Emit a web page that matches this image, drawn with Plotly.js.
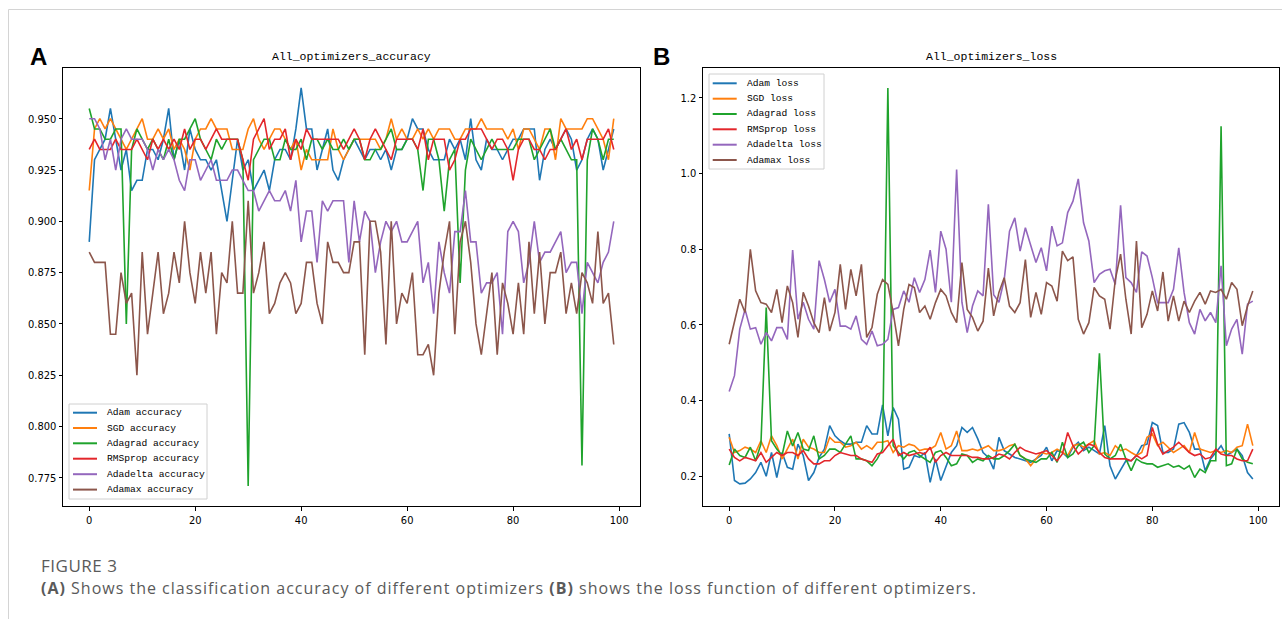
<!DOCTYPE html>
<html>
<head>
<meta charset="utf-8">
<script src="https://cdn.plot.ly/plotly-3.0.1.min.js"></script>
<style>html,body{margin:0;padding:0;background:#fff;}#chart{width:1282px;height:619px;}</style>
</head>
<body>
<div id="chart"></div>
<script>
// ---------------- data ----------------
const epochs = Array.from({length: 100}, (_, i) => i);

const accNames = ["Adam accuracy", "SGD accuracy", "Adagrad accuracy", "RMSprop accuracy", "Adadelta accuracy", "Adamax accuracy"];
const lossNames = ["Adam loss", "SGD loss", "Adagrad loss", "RMSprop loss", "Adadelta loss", "Adamax loss"];
const seriesColors = ["#1f77b4", "#ff7f0e", "#1fa32c", "#e3262b", "#9467bd", "#8c564b"];

const adamAcc = [0.890,0.930,0.935,0.940,0.955,0.940,0.925,0.935,0.915,0.920,
 0.920,0.935,0.935,0.930,0.940,0.955,0.930,0.940,0.925,0.945,
 0.935,0.930,0.930,0.925,0.930,0.915,0.900,0.920,0.940,0.925,
 0.930,0.915,0.920,0.925,0.915,0.930,0.935,0.935,0.930,0.945,
 0.965,0.945,0.945,0.925,0.935,0.945,0.925,0.920,0.930,0.935,
 0.940,0.935,0.930,0.935,0.935,0.930,0.935,0.925,0.935,0.935,
 0.940,0.950,0.945,0.945,0.935,0.930,0.930,0.930,0.940,0.935,
 0.940,0.930,0.950,0.930,0.925,0.940,0.935,0.935,0.930,0.935,
 0.940,0.940,0.945,0.945,0.945,0.920,0.935,0.940,0.935,0.940,
 0.945,0.940,0.925,0.930,0.940,0.945,0.940,0.925,0.935,0.945];
const sgdAcc = [0.915,0.945,0.950,0.945,0.950,0.945,0.940,0.935,0.940,0.945,
 0.950,0.940,0.940,0.945,0.940,0.945,0.935,0.940,0.935,0.925,
 0.940,0.945,0.945,0.950,0.945,0.945,0.945,0.935,0.935,0.935,
 0.945,0.950,0.940,0.935,0.940,0.945,0.945,0.940,0.935,0.940,
 0.925,0.935,0.930,0.930,0.930,0.930,0.945,0.935,0.930,0.935,
 0.940,0.940,0.940,0.940,0.940,0.935,0.940,0.950,0.940,0.945,
 0.940,0.940,0.945,0.940,0.945,0.940,0.945,0.945,0.945,0.940,
 0.940,0.945,0.945,0.945,0.950,0.945,0.945,0.945,0.945,0.940,
 0.945,0.935,0.945,0.945,0.940,0.935,0.945,0.945,0.930,0.950,
 0.945,0.945,0.945,0.945,0.950,0.950,0.945,0.940,0.930,0.950];
const adagradAcc = [0.955,0.945,0.945,0.940,0.940,0.945,0.945,0.850,0.935,0.945,
 0.940,0.935,0.940,0.935,0.930,0.940,0.930,0.940,0.940,0.945,
 0.950,0.940,0.935,0.930,0.940,0.935,0.940,0.940,0.940,0.930,
 0.771,0.930,0.935,0.940,0.940,0.930,0.930,0.940,0.935,0.935,
 0.940,0.930,0.940,0.940,0.935,0.940,0.935,0.935,0.940,0.935,
 0.940,0.940,0.930,0.930,0.935,0.935,0.940,0.945,0.935,0.935,
 0.940,0.940,0.935,0.915,0.940,0.940,0.930,0.905,0.930,0.935,
 0.870,0.925,0.940,0.935,0.930,0.935,0.940,0.935,0.935,0.935,
 0.935,0.940,0.940,0.940,0.930,0.935,0.940,0.945,0.935,0.940,
 0.935,0.930,0.930,0.781,0.930,0.945,0.940,0.930,0.940,0.940];
const rmspropAcc = [0.935,0.940,0.935,0.935,0.935,0.940,0.935,0.935,0.935,0.940,
 0.935,0.930,0.940,0.935,0.940,0.935,0.940,0.935,0.945,0.935,
 0.940,0.940,0.935,0.940,0.945,0.940,0.940,0.940,0.940,0.930,
 0.920,0.940,0.945,0.950,0.935,0.940,0.940,0.945,0.930,0.940,
 0.935,0.945,0.940,0.940,0.940,0.940,0.940,0.940,0.935,0.940,
 0.945,0.940,0.930,0.940,0.945,0.940,0.935,0.930,0.940,0.940,
 0.940,0.940,0.935,0.945,0.930,0.940,0.940,0.940,0.925,0.930,
 0.940,0.940,0.945,0.945,0.945,0.940,0.935,0.940,0.940,0.935,
 0.920,0.935,0.940,0.940,0.935,0.935,0.930,0.935,0.935,0.940,
 0.945,0.935,0.940,0.930,0.940,0.940,0.940,0.940,0.945,0.935];
const adadeltaAcc = [0.950,0.950,0.945,0.930,0.940,0.925,0.940,0.945,0.940,0.940,
 0.940,0.935,0.925,0.935,0.930,0.935,0.930,0.920,0.915,0.930,
 0.930,0.920,0.925,0.930,0.920,0.920,0.920,0.925,0.925,0.920,
 0.915,0.915,0.905,0.910,0.915,0.910,0.910,0.915,0.905,0.920,
 0.890,0.905,0.905,0.880,0.910,0.905,0.910,0.910,0.910,0.880,
 0.910,0.890,0.905,0.900,0.875,0.890,0.900,0.895,0.900,0.890,
 0.890,0.895,0.900,0.870,0.880,0.855,0.890,0.875,0.865,0.895,
 0.895,0.915,0.890,0.890,0.865,0.870,0.870,0.875,0.845,0.895,
 0.900,0.895,0.870,0.880,0.900,0.880,0.885,0.885,0.890,0.895,
 0.875,0.880,0.880,0.855,0.880,0.875,0.870,0.880,0.885,0.900];
const adamaxAcc = [0.885,0.880,0.880,0.880,0.845,0.845,0.875,0.860,0.865,0.825,
 0.885,0.845,0.865,0.885,0.855,0.865,0.885,0.870,0.900,0.875,
 0.860,0.885,0.865,0.885,0.845,0.875,0.870,0.900,0.865,0.865,
 0.910,0.865,0.875,0.890,0.855,0.860,0.870,0.875,0.870,0.855,
 0.860,0.880,0.880,0.860,0.850,0.890,0.880,0.880,0.875,0.875,
 0.890,0.890,0.835,0.900,0.900,0.885,0.840,0.900,0.850,0.865,
 0.860,0.875,0.835,0.835,0.840,0.825,0.865,0.885,0.900,0.845,
 0.890,0.900,0.880,0.850,0.835,0.855,0.875,0.835,0.870,0.860,
 0.845,0.870,0.845,0.890,0.855,0.885,0.850,0.875,0.875,0.885,
 0.855,0.870,0.855,0.875,0.870,0.860,0.895,0.860,0.865,0.840];

const adamLoss = [0.312,0.189,0.180,0.182,0.193,0.210,0.237,0.200,0.263,0.197,
 0.263,0.224,0.219,0.285,0.255,0.189,0.210,0.250,0.272,0.334,
 0.307,0.294,0.285,0.285,0.290,0.290,0.334,0.312,0.312,0.389,
 0.307,0.382,0.351,0.219,0.224,0.255,0.250,0.263,0.184,0.246,
 0.189,0.228,0.263,0.281,0.329,0.316,0.329,0.299,0.263,0.250,
 0.219,0.303,0.268,0.259,0.250,0.246,0.241,0.237,0.246,0.255,
 0.277,0.241,0.268,0.263,0.250,0.277,0.290,0.268,0.277,0.268,
 0.259,0.334,0.228,0.193,0.219,0.241,0.241,0.255,0.281,0.285,
 0.342,0.334,0.263,0.263,0.272,0.338,0.342,0.316,0.272,0.272,
 0.215,0.246,0.263,0.281,0.255,0.263,0.272,0.255,0.210,0.193];
const sgdLoss = [0.303,0.263,0.268,0.277,0.272,0.263,0.294,0.263,0.307,0.281,
 0.246,0.272,0.298,0.246,0.298,0.277,0.272,0.263,0.263,0.303,
 0.290,0.290,0.277,0.281,0.290,0.272,0.281,0.272,0.290,0.290,
 0.294,0.263,0.281,0.277,0.285,0.281,0.268,0.272,0.272,0.281,
 0.316,0.272,0.281,0.320,0.268,0.268,0.272,0.268,0.275,0.281,
 0.268,0.268,0.272,0.281,0.285,0.255,0.246,0.228,0.246,0.263,
 0.259,0.263,0.272,0.263,0.255,0.281,0.285,0.277,0.285,0.294,
 0.259,0.263,0.255,0.281,0.268,0.272,0.263,0.255,0.263,0.303,
 0.312,0.281,0.290,0.277,0.263,0.272,0.281,0.263,0.316,0.272,
 0.268,0.263,0.268,0.263,0.268,0.263,0.277,0.281,0.338,0.281];
const adagradLoss = [0.230,0.272,0.255,0.250,0.277,0.241,0.285,0.646,0.294,0.272,
 0.255,0.320,0.280,0.316,0.272,0.268,0.307,0.246,0.255,0.272,
 0.272,0.263,0.285,0.307,0.246,0.246,0.241,0.228,0.246,0.272,
 1.226,0.281,0.263,0.246,0.263,0.268,0.255,0.246,0.237,0.263,
 0.268,0.250,0.228,0.233,0.259,0.255,0.237,0.246,0.241,0.255,
 0.246,0.246,0.255,0.268,0.285,0.255,0.246,0.241,0.237,0.246,
 0.246,0.263,0.237,0.290,0.250,0.259,0.281,0.290,0.263,0.281,
 0.525,0.259,0.246,0.255,0.285,0.246,0.215,0.246,0.237,0.233,
 0.233,0.224,0.228,0.233,0.224,0.228,0.219,0.228,0.197,0.219,
 0.210,0.241,0.241,1.125,0.228,0.233,0.272,0.246,0.237,0.233];
const rmspropLoss = [0.272,0.250,0.241,0.250,0.246,0.241,0.263,0.237,0.250,0.263,
 0.255,0.263,0.263,0.255,0.268,0.246,0.233,0.233,0.241,0.241,
 0.255,0.263,0.259,0.255,0.255,0.246,0.241,0.237,0.259,0.263,
 0.281,0.298,0.255,0.263,0.255,0.259,0.263,0.259,0.277,0.237,
 0.255,0.263,0.255,0.255,0.255,0.255,0.250,0.250,0.246,0.246,
 0.250,0.259,0.255,0.246,0.263,0.277,0.268,0.263,0.259,0.263,
 0.268,0.255,0.241,0.259,0.316,0.281,0.259,0.272,0.285,0.281,
 0.263,0.250,0.246,0.246,0.246,0.246,0.241,0.255,0.246,0.255,
 0.329,0.285,0.259,0.268,0.277,0.290,0.277,0.263,0.255,0.259,
 0.246,0.250,0.272,0.259,0.255,0.255,0.246,0.241,0.241,0.272];
const adadeltaLoss = [0.424,0.466,0.589,0.641,0.589,0.593,0.549,0.580,0.558,0.593,
 0.593,0.562,0.798,0.615,0.660,0.615,0.589,0.770,0.720,0.660,
 0.694,0.597,0.597,0.589,0.624,0.562,0.549,0.584,0.545,0.549,
 0.562,0.641,0.646,0.690,0.660,0.725,0.686,0.720,0.798,0.686,
 0.848,0.800,0.660,1.011,0.660,0.580,0.650,0.690,0.677,0.919,
 0.680,0.660,0.720,0.848,0.883,0.795,0.857,0.809,0.765,0.804,
 0.743,0.861,0.809,0.817,0.897,0.927,0.986,0.870,0.822,0.712,
 0.734,0.743,0.747,0.707,0.916,0.725,0.712,0.686,0.793,0.782,
 0.725,0.659,0.659,0.659,0.694,0.804,0.686,0.606,0.576,0.641,
 0.611,0.633,0.606,0.756,0.545,0.589,0.615,0.523,0.655,0.663];
const adamaxLoss = [0.549,0.606,0.668,0.633,0.800,0.690,0.659,0.655,0.633,0.694,
 0.606,0.703,0.659,0.567,0.686,0.650,0.606,0.580,0.672,0.584,
 0.633,0.760,0.641,0.747,0.677,0.760,0.567,0.593,0.681,0.720,
 0.707,0.633,0.545,0.641,0.707,0.699,0.633,0.650,0.615,0.659,
 0.694,0.677,0.633,0.606,0.765,0.641,0.620,0.584,0.610,0.750,
 0.624,0.686,0.725,0.650,0.633,0.659,0.773,0.620,0.686,0.628,
 0.712,0.703,0.663,0.795,0.770,0.780,0.615,0.576,0.606,0.699,
 0.677,0.668,0.589,0.720,0.787,0.668,0.576,0.822,0.593,0.628,
 0.690,0.637,0.740,0.610,0.677,0.610,0.663,0.633,0.663,0.686,
 0.655,0.690,0.686,0.694,0.668,0.712,0.694,0.598,0.650,0.690];

const accTicks = [0.775, 0.800, 0.825, 0.850, 0.875, 0.900, 0.925, 0.950];
const lossTicks = [0.2, 0.4, 0.6, 0.8, 1.0, 1.2];
const epochTicks = [0, 20, 40, 60, 80, 100];

const accTitle = "All_optimizers_accuracy";
const lossTitle = "All_optimizers_loss";
const captionHead = "FIGURE 3";
const captionBody = "<b>(A)</b> Shows the classification accuracy of different optimizers <b>(B)</b> shows the loss function of different optimizers.";

// ---------------- layout helpers ----------------
const W = 1282, H = 619;
const px = x => x / W;
const py = y => 1 - y / H;

const accSeries = [adamAcc, sgdAcc, adagradAcc, rmspropAcc, adadeltaAcc, adamaxAcc];
const lossSeries = [adamLoss, sgdLoss, adagradLoss, rmspropLoss, adadeltaLoss, adamaxLoss];

const traces = [];
accSeries.forEach((ys, i) => traces.push({
  x: epochs, y: ys, type: "scatter", mode: "lines", name: accNames[i],
  line: {color: seriesColors[i], width: 1.6}, xaxis: "x", yaxis: "y", showlegend: false
}));
lossSeries.forEach((ys, i) => traces.push({
  x: epochs, y: ys, type: "scatter", mode: "lines", name: lossNames[i],
  line: {color: seriesColors[i], width: 1.6}, xaxis: "x2", yaxis: "y2", showlegend: false
}));

const tickFont = {family: "'Liberation Sans Narrow', 'DejaVu Sans Condensed', 'Liberation Sans', sans-serif", size: 11, color: "#000"};
const monoFont = "'Liberation Mono', 'DejaVu Sans Mono', monospace";
const captionFont = "'Open Sans', 'Noto Sans', sans-serif";

function axisBase(extra) {
  return Object.assign({
    showline: true, mirror: true, linecolor: "#000", linewidth: 1,
    showgrid: false, zeroline: false, ticks: "outside", ticklen: 3.5,
    tickcolor: "#000", tickwidth: 1, tickfont: tickFont, fixedrange: true
  }, extra);
}

const boxA = {l: 63, r: 640, t: 68, b: 506};
const boxB = {l: 703, r: 1279, t: 68, b: 506};

const shapes = [
  // page frame lines
  {type: "line", xref: "paper", yref: "paper", x0: px(8.5), x1: 1, y0: py(9.5), y1: py(9.5), line: {color: "#d4d4d4", width: 1}},
  {type: "line", xref: "paper", yref: "paper", x0: px(8.5), x1: px(8.5), y0: py(9.5), y1: 0, line: {color: "#d4d4d4", width: 1}}
];
const annotations = [
  {text: "<b>A</b>", x: px(38.5), y: py(57), xref: "paper", yref: "paper", showarrow: false, xanchor: "center", yanchor: "middle",
   font: {family: "'Liberation Sans', Arial, sans-serif", size: 24, color: "#000"}},
  {text: "<b>B</b>", x: px(661), y: py(57), xref: "paper", yref: "paper", showarrow: false, xanchor: "center", yanchor: "middle",
   font: {family: "'Liberation Sans', Arial, sans-serif", size: 24, color: "#000"}},
  {text: accTitle, x: px((boxA.l + boxA.r) / 2), y: py(57), xref: "paper", yref: "paper", showarrow: false, xanchor: "center", yanchor: "middle",
   font: {family: monoFont, size: 11.5, color: "#000"}},
  {text: lossTitle, x: px((boxB.l + boxB.r) / 2), y: py(57), xref: "paper", yref: "paper", showarrow: false, xanchor: "center", yanchor: "middle",
   font: {family: monoFont, size: 11.5, color: "#000"}},
  {text: captionHead, x: px(39), y: py(565), xref: "paper", yref: "paper", showarrow: false, xanchor: "left", yanchor: "middle",
   font: {family: captionFont, size: 17, color: "#5a5a5a"}},
  {text: captionBody, x: px(39), y: py(588), xref: "paper", yref: "paper", showarrow: false, xanchor: "left", yanchor: "middle",
   font: {family: captionFont, size: 16, color: "#5a5a5a"}}
];

// custom matplotlib-style legends
function addLegend(names, box, rowY, lineX0, lineX1, textX) {
  shapes.push({type: "rect", xref: "paper", yref: "paper", layer: "above",
    x0: px(box.l), x1: px(box.r), y0: py(box.b), y1: py(box.t),
    fillcolor: "rgba(255,255,255,0.9)", line: {color: "#d0d0d0", width: 1}});
  names.forEach((n, i) => {
    shapes.push({type: "line", xref: "paper", yref: "paper", layer: "above",
      x0: px(lineX0), x1: px(lineX1), y0: py(rowY[i]), y1: py(rowY[i]),
      line: {color: seriesColors[i], width: 2}});
    annotations.push({text: n, x: px(textX), y: py(rowY[i]), xref: "paper", yref: "paper",
      showarrow: false, xanchor: "left", yanchor: "middle",
      font: {family: monoFont, size: 9.6, color: "#000"}});
  });
}
addLegend(accNames, {l: 69, r: 207, t: 404, b: 499}, [412.7, 428, 443.3, 458.7, 474.2, 489.6], 73, 97, 104.5);
addLegend(lossNames, {l: 709, r: 824, t: 74, b: 169}, [83.3, 98.7, 114, 129.3, 144.7, 160], 712.7, 736.7, 744.5);

const layout = {
  width: W, height: H,
  margin: {l: 0, r: 0, t: 0, b: 0},
  paper_bgcolor: "#fff", plot_bgcolor: "#fff",
  showlegend: false,
  xaxis: axisBase({domain: [px(boxA.l), px(boxA.r)], range: [-4.95, 103.95], tickvals: epochTicks, anchor: "y"}),
  yaxis: axisBase({domain: [py(boxA.b), py(boxA.t)], range: [0.7613, 0.9747], tickvals: accTicks,
    ticktext: accTicks.map(v => v.toFixed(3)), anchor: "x"}),
  xaxis2: axisBase({domain: [px(boxB.l), px(boxB.r)], range: [-4.95, 103.95], tickvals: epochTicks, anchor: "y2"}),
  yaxis2: axisBase({domain: [py(boxB.b), py(boxB.t)], range: [0.1216, 1.279], tickvals: lossTicks,
    ticktext: lossTicks.map(v => v.toFixed(1)), anchor: "x2"}),
  shapes: shapes,
  annotations: annotations
};

Plotly.newPlot("chart", traces, layout, {displayModeBar: false, staticPlot: true}).then(gd => {
  // the journal caption font is widely spaced; widen the caption text, keeping its left edge
  gd.querySelectorAll(".annotation-text").forEach(t => {
    const s = t.textContent;
    let sp = null;
    if (s.startsWith("FIGURE")) sp = "0.5px";
    else if (s.startsWith("(A)")) sp = "1px";
    if (!sp) return;
    const before = t.getBBox().x;
    t.style.letterSpacing = sp;
    const after = t.getBBox().x;
    const x0 = parseFloat(t.getAttribute("x") || "0");
    t.setAttribute("x", x0 + (before - after));
    t.querySelectorAll("tspan[x]").forEach(ts => {
      ts.setAttribute("x", parseFloat(ts.getAttribute("x")) + (before - after));
    });
  });
});
</script>
</body>
</html>
